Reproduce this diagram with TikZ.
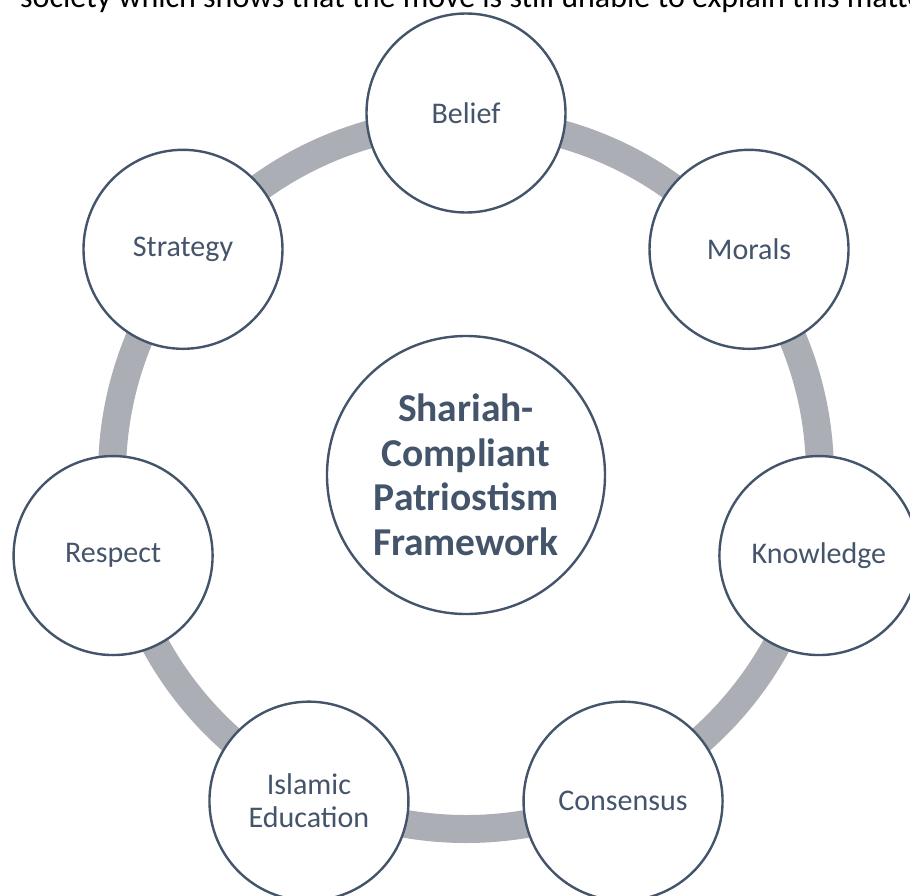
\documentclass[tikz,border=0pt]{standalone}
\usepackage{fontspec}
\setmainfont{Carlito}
\usetikzlibrary{positioning, calc}
\definecolor{navy}{RGB}{68,84,106}
\definecolor{ringgray}{RGB}{172,174,181}
\tikzset{
  pillar/.style={circle, draw=navy, line width=2.4pt, fill=white, minimum size=199pt,
    inner sep=0pt, text=navy, align=center, font=\fontsize{30}{33}\selectfont},
  core/.style={pillar, minimum size=278pt, font=\fontsize{39.5}{44.5}\selectfont\bfseries}
}

\begin{document}
\begin{tikzpicture}[x=1pt,y=-1pt]
\useasboundingbox (0,0) rectangle (910,895);
\clip (0,0) rectangle (910,895);
% running text above the figure
\node[anchor=base west, inner sep=0pt, font=\fontsize{32}{38}\selectfont] (para) at (20,7)
  {society which shows that the move is still unable to explain this matter};
% ring
\coordinate (ctr) at (466,475);
\draw[ringgray, line width=28pt] (ctr) circle (354);
% centre
\node[core] (frame) at (ctr) {Shariah-\\Compliant\\Patriostism\\Framework};
% pillars round the ring
\foreach \name/\txt [count=\i from 0] in {belief/Belief, morals/Morals, knowledge/Knowledge,
    consensus/Consensus, education/Islamic\\Education, respect/Respect, strategy/Strategy}
  \node[pillar] (\name) at ($(ctr)+(-90+\i*360/7:362)$) {\txt};
\end{tikzpicture}
\end{document}
